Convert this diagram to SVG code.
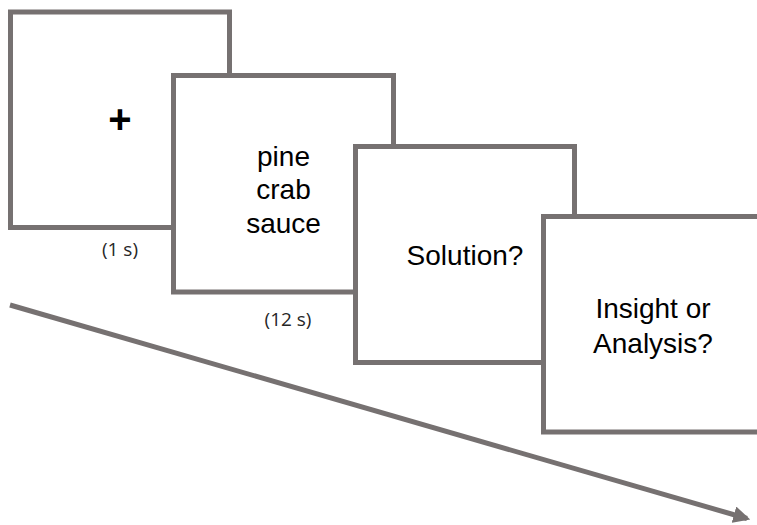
<svg xmlns="http://www.w3.org/2000/svg" width="757" height="525" viewBox="0 0 757 525">
<style>
.box{fill:#fff;stroke:#767171;stroke-width:5}
.big{font-family:"Liberation Sans",Arial,sans-serif;font-size:28px;fill:#000;text-anchor:middle}
.small{font-family:"Open Sans","Liberation Sans",sans-serif;font-size:19px;fill:#262626;text-anchor:middle}
.conn{stroke:#767171;stroke-width:5;fill:none}
</style>
<defs>
<marker id="ah" viewBox="0 0 10 10" refX="8" refY="5" markerWidth="3.4" markerHeight="3.4" orient="auto" markerUnits="strokeWidth">
<path d="M0,0 L10,5 L0,10 z" fill="#767171"/>
</marker>
</defs>
<rect width="757" height="525" fill="#fff"/>
<g id="connectors">
<line class="conn" x1="10" y1="305" x2="747" y2="518.5" marker-end="url(#ah)"/>
</g>
<g id="fixation">
<rect class="box" x="10.5" y="12" width="219" height="215.5"/>
<text x="120" y="133" font-family="Liberation Sans,Arial,sans-serif" font-size="40" font-weight="bold" text-anchor="middle">+</text>
<text class="small" x="120" y="256">(1 s)</text>
</g>
<g id="words">
<rect class="box" x="173.5" y="75.5" width="220" height="216.5"/>
<text class="big" x="283.5" y="166">pine</text>
<text class="big" x="283.5" y="199">crab</text>
<text class="big" x="283.5" y="233">sauce</text>
<text class="small" x="288" y="326">(12 s)</text>
</g>
<g id="solution">
<rect class="box" x="355.5" y="146.5" width="219" height="216"/>
<text class="big" x="465" y="265">Solution?</text>
</g>
<g id="insight">
<rect class="box" x="543.5" y="216.5" width="219" height="215.5"/>
<text class="big" x="653" y="318">Insight or</text>
<text class="big" x="653" y="353">Analysis?</text>
</g>
</svg>
